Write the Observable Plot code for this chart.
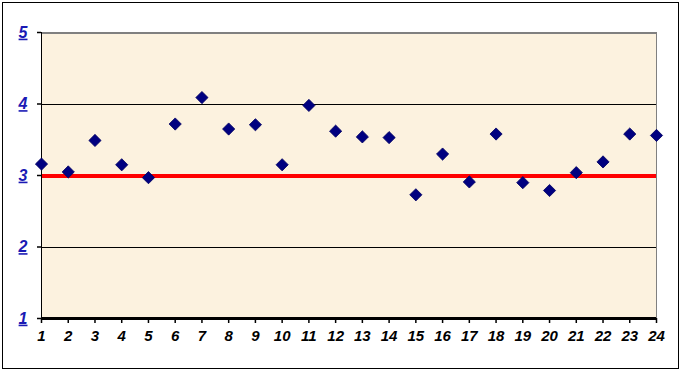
<!DOCTYPE html>
<html>
<head>
<meta charset="utf-8">
<script src="https://cdn.jsdelivr.net/npm/d3@7"></script>
<script src="https://cdn.jsdelivr.net/npm/@observablehq/plot@0.6"></script>
<style>
  html, body { margin: 0; padding: 0; background: #fff; }
  #wrap { position: relative; width: 683px; height: 374px; }
  #border { position: absolute; left: 2px; top: 2px; width: 675px; height: 365px; border: 1.5px solid #000; pointer-events: none; }
  g[aria-label="y-axis tick label"] text { text-decoration: underline; }
  g[aria-label="rule"] line { shape-rendering: crispEdges; }
</style>
</head>
<body>
<div id="wrap"><div id="border"></div></div>
<script>
const periods = [1,2,3,4,5,6,7,8,9,10,11,12,13,14,15,16,17,18,19,20,21,22,23,24];
const values = [3.16,3.05,3.49,3.15,2.97,3.72,4.09,3.65,3.71,3.15,3.98,3.62,3.54,3.53,2.73,3.30,2.91,3.58,2.90,2.79,3.04,3.19,3.58,3.56];
const yTicks = [1,2,3,4,5];
const target = 3;
const gridLines = [2,3,4];

const data = periods.map((p, i) => ({period: p, value: values[i]}));

const chart = Plot.plot({
  width: 683,
  height: 374,
  marginLeft: 41,
  marginRight: 27,
  marginTop: 32,
  marginBottom: 56,
  style: {background: "transparent", fontFamily: "'Liberation Sans', Arial, sans-serif"},
  x: {type: "linear", domain: [1, 24]},
  y: {domain: [1, 5]},
  marks: [
    Plot.frame({fill: "#FCF2DF", stroke: null}),
    Plot.ruleY(gridLines, {stroke: "#000", strokeWidth: 1}),
    Plot.ruleY([5], {stroke: "#808080", strokeWidth: 2}),
    Plot.ruleX([24], {stroke: "#808080", strokeWidth: 1.5}),
    Plot.ruleY([target], {stroke: "#FF0000", strokeWidth: 4}),
    Plot.ruleX([1], {stroke: "#000", strokeWidth: 1.5}),
    Plot.ruleY([1], {stroke: "#000", strokeWidth: 2.5}),
    Plot.axisY({ticks: yTicks, tickSize: 4, tickPadding: 10, fontSize: 16, fontWeight: "bold", fontStyle: "italic", fill: "#1a1ab4", stroke: "#000", strokeWidth: 1.5, label: null, tickFormat: d => String(d)}),
    Plot.axisX({ticks: periods, tickSize: 5, tickPadding: 7, fontSize: 15, fontWeight: "bold", fontStyle: "italic", fill: "#000", stroke: "#000", strokeWidth: 1.5, label: null, tickFormat: d => String(d)}),
    Plot.dot(data, {x: "period", y: "value", symbol: "diamond2", r: 5.5, fill: "#000080", stroke: "#000060", strokeWidth: 0.8})
  ]
});
document.getElementById("wrap").prepend(chart);
</script>
</body>
</html>
